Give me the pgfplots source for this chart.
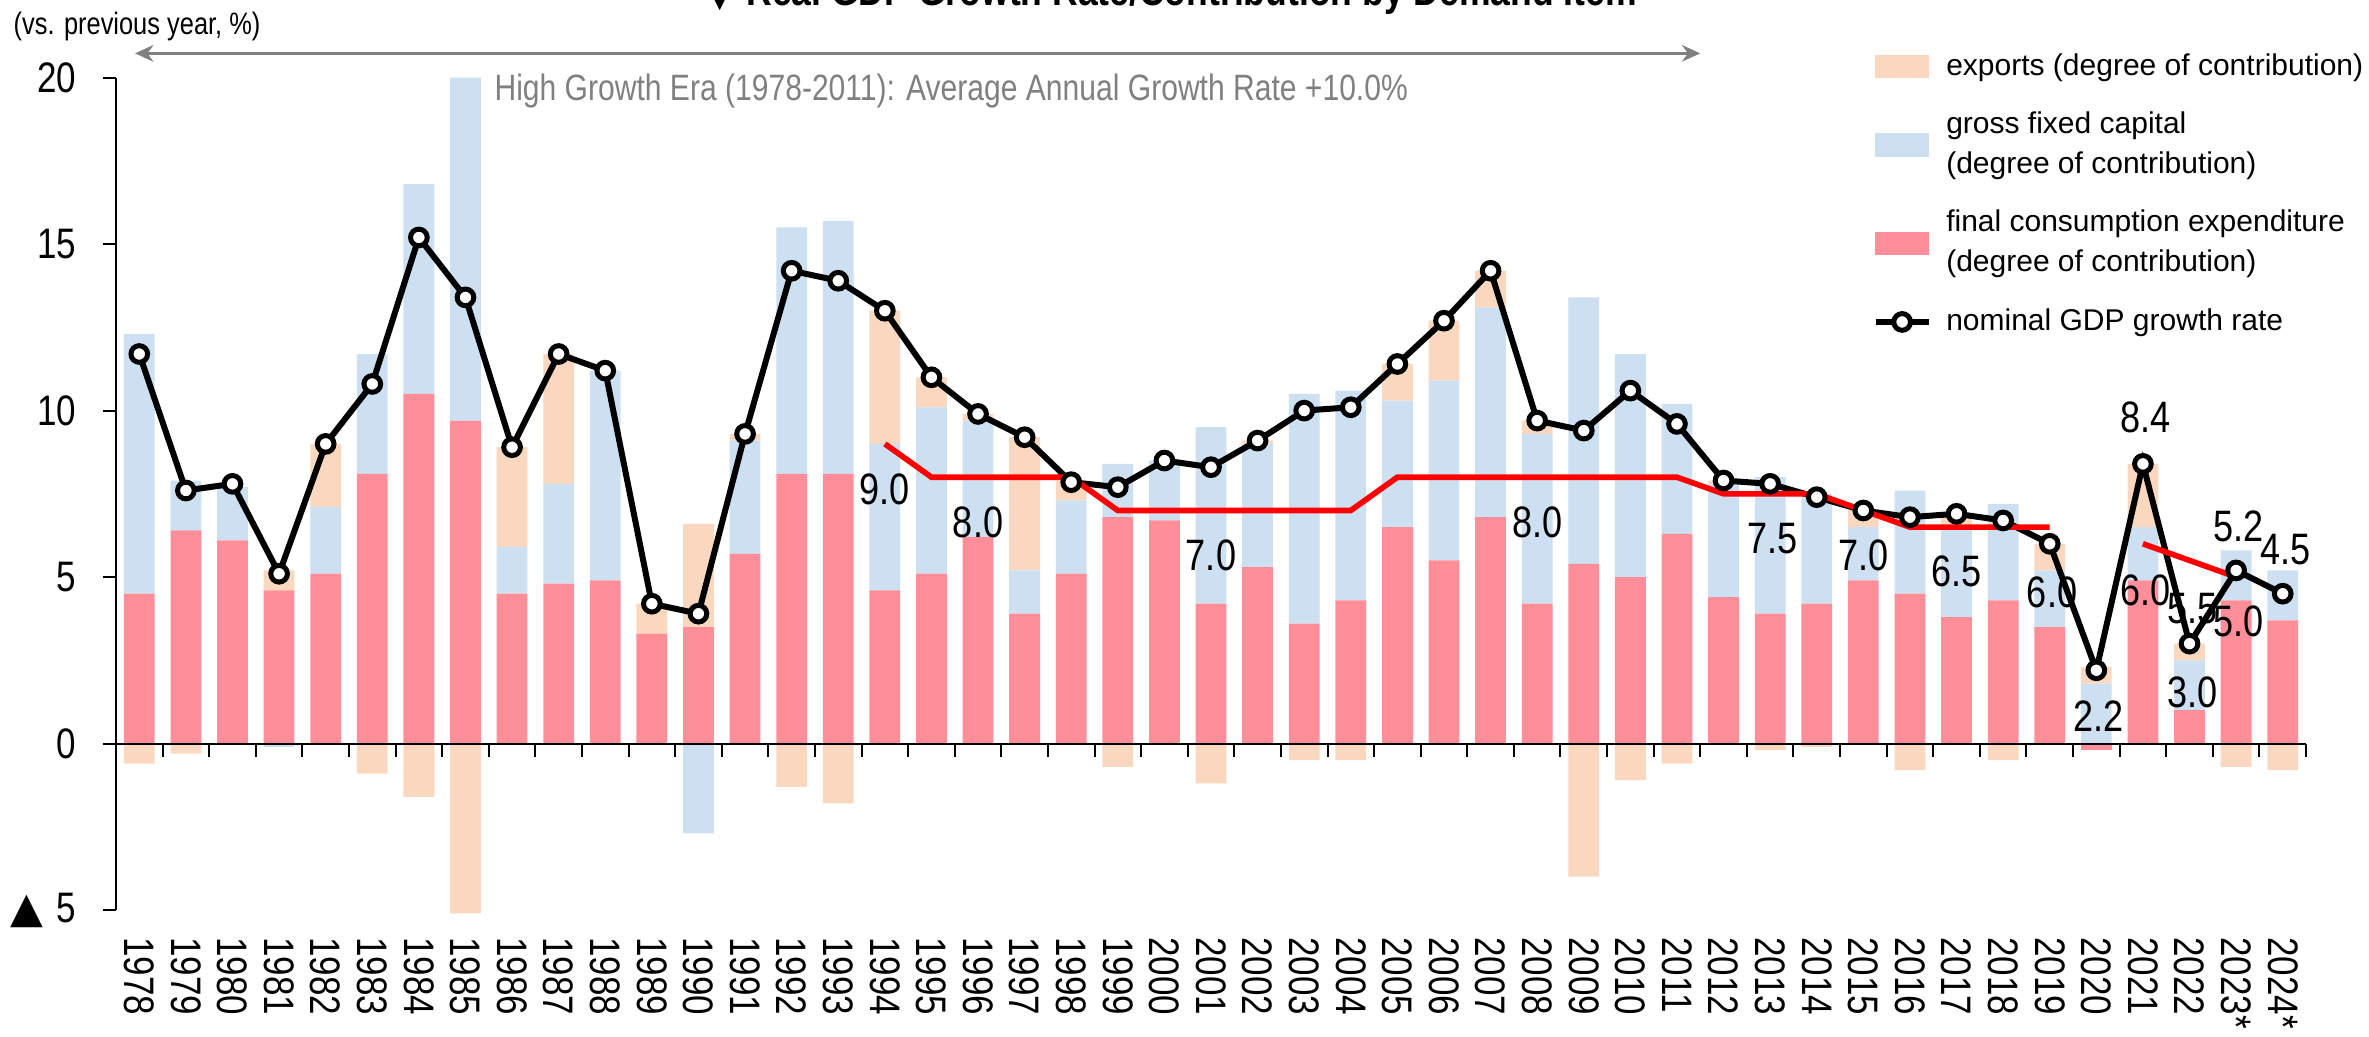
\documentclass[border=0pt]{standalone}
\usepackage{fontspec}
\setmainfont{Liberation Sans}
\newfontfamily\narrow{Liberation Sans}[FakeStretch=0.82]
\newfontfamily\dejavu{DejaVu Sans}
\usepackage{pgfplots}
\usepackage{pgfplotstable}
\pgfplotsset{compat=1.18}
\usetikzlibrary{arrows.meta}

\definecolor{expc}{RGB}{250,216,192}
\definecolor{gfcc}{RGB}{204,224,242}
\definecolor{fcec}{RGB}{255,142,153}
\definecolor{arrgray}{RGB}{128,128,128}

\pgfplotstableread{
i r b e g
0 4.5 7.8 -0.6 11.7
1 6.4 1.5 -0.3 7.6
2 6.1 1.6 0.0 7.8
3 4.6 -0.1 0.6 5.1
4 5.1 2.0 1.9 9.0
5 8.1 3.6 -0.9 10.8
6 10.5 6.3 -1.6 15.2
7 9.7 10.3 -5.1 13.4
8 4.5 1.4 3.0 8.9
9 4.8 3.0 3.9 11.7
10 4.9 6.3 0.0 11.2
11 3.3 0.0 0.9 4.2
12 3.5 -2.7 3.1 3.9
13 5.7 3.4 0.2 9.3
14 8.1 7.4 -1.3 14.2
15 8.1 7.6 -1.8 13.9
16 4.6 4.4 4.0 13.0
17 5.1 5.0 0.9 11.0
18 6.2 3.5 0.2 9.9
19 3.9 1.3 4.0 9.2
20 5.1 2.2 0.6 7.85
21 6.8 1.6 -0.7 7.7
22 6.7 1.8 0.0 8.5
23 4.2 5.3 -1.2 8.3
24 5.3 3.7 0.1 9.1
25 3.6 6.9 -0.5 10.0
26 4.3 6.3 -0.5 10.1
27 6.5 3.8 1.1 11.4
28 5.5 5.4 1.8 12.7
29 6.8 6.3 1.1 14.2
30 4.2 5.1 0.4 9.7
31 5.4 8.0 -4.0 9.4
32 5.0 6.7 -1.1 10.6
33 6.3 3.9 -0.6 9.6
34 4.4 3.4 0.1 7.9
35 3.9 4.1 -0.2 7.8
36 4.2 3.3 -0.1 7.4
37 4.9 1.6 0.5 7.0
38 4.5 3.1 -0.8 6.8
39 3.8 2.7 0.4 6.9
40 4.3 2.9 -0.5 6.7
41 3.5 1.7 0.8 6.0
42 -0.2 1.8 0.5 2.2
43 4.9 1.6 1.9 8.4
44 1.0 1.5 0.5 3.0
45 4.3 1.5 -0.7 5.2
46 3.7 1.5 -0.8 4.5
}\data

\pgfplotstableread{
i t
16 9.0
17 8.0
18 8.0
19 8.0
20 8.0
21 7.0
22 7.0
23 7.0
24 7.0
25 7.0
26 7.0
27 8.0
28 8.0
29 8.0
30 8.0
31 8.0
32 8.0
33 8.0
34 7.5
35 7.5
36 7.5
37 7.0
38 6.5
39 6.5
40 6.5
41 6.5
42 nan
43 6.0
44 5.5
45 5.0
}\target

\pgfplotsset{
  base/.style={
    width=657pt, height=249.7pt, scale only axis,
    xmin=-0.5, xmax=46.5, ymin=-5, ymax=20,
    at={(34.8pt,37.8pt)}, anchor=south west, clip=false,
  },
  gdpimage/.style={legend image code/.code={\draw[##1, mark=none] (0pt,0pt) -- (15.9pt,0pt); \draw[##1] plot coordinates {(7.95pt,0pt)};}},
}
\newcommand{\tickfont}{\narrow\fontsize{12.8}{14}\selectfont}
\newcommand{\lblfont}{\narrow\fontsize{13.2}{14}\selectfont}

\begin{document}
\begin{tikzpicture}
% ---------- bars ----------
\begin{axis}[base,
  ybar stacked, bar width=0.66,
  axis x line=bottom, axis y line=left,
  axis line style={-, line width=0.6pt},
  x axis line style={draw=none},
  xtick={0,...,46},
  xticklabels={1978,1979,1980,1981,1982,1983,1984,1985,1986,1987,1988,1989,1990,1991,1992,1993,1994,1995,1996,1997,1998,1999,2000,2001,2002,2003,2004,2005,2006,2007,2008,2009,2010,2011,2012,2013,2014,2015,2016,2017,2018,2019,2020,2021,2022,2023*,2024*},
  xtick style={draw=none},
  xticklabel style={rotate=-90, anchor=west, inner sep=0pt, font=\tickfont},
  xticklabel shift=4.1pt,
  ytick={-5,0,5,10,15,20},
  yticklabels={{{\dejavu ▲}\hspace{4pt}5},0,5,10,15,20},
  ytick style={line width=0.6pt, black},
  tick align=outside, major tick length=3.9pt,
  yticklabel style={font=\tickfont, inner sep=0pt},
  yticklabel shift=7.8pt,
]
\addplot[fill=fcec, draw=none] table[x=i, y expr={min(\thisrow{r},0)}] {\data};
\addplot[fill=gfcc, draw=none] table[x=i, y expr={min(\thisrow{b},0)}] {\data};
\addplot[fill=expc, draw=none] table[x=i, y expr={min(\thisrow{e},0)}] {\data};
\addplot[fill=fcec, draw=none] table[x=i, y expr={max(\thisrow{r},0)}] {\data};
\addplot[fill=gfcc, draw=none] table[x=i, y expr={max(\thisrow{b},0)}] {\data};
\addplot[fill=expc, draw=none] table[x=i, y expr={max(\thisrow{e},0)}] {\data};
\end{axis}
% ---------- lines ----------
\begin{axis}[base,
  axis x line=middle, axis y line=none,
  axis line style={-, line width=0.6pt},
  xtick={0.5,1.5,...,46.5}, xticklabels={},
  ytick=\empty,
  xtick style={line width=0.6pt, black},
  tick align=outside, major tick length=3.9pt,
  legend style={at={(0.8018,1.03)}, anchor=north west, draw=none, fill=none,
    inner sep=0pt, row sep=9.5pt,
    font=\fontsize{9.0}{12}\selectfont,
    nodes={inner sep=0pt},
    cells={anchor=west, align=left},
    /tikz/every odd column/.append style={column sep=4.4pt}},
]
\addlegendimage{legend image code/.code={\fill[expc] (0pt,-3.3pt) rectangle (15.9pt,3.3pt);}}
\addlegendentry{exports (degree of contribution)}
\addlegendimage{legend image code/.code={\fill[gfcc] (0pt,-3.3pt) rectangle (15.9pt,3.3pt);}}
\addlegendentry{gross fixed capital\\(degree of contribution)}
\addlegendimage{legend image code/.code={\fill[fcec] (0pt,-3.3pt) rectangle (15.9pt,3.3pt);}}
\addlegendentry{final consumption expenditure\\(degree of contribution)}

\node[font=\lblfont, inner sep=0pt] at (axis cs:16.0,7.64) {9.0};
\node[font=\lblfont, inner sep=0pt] at (axis cs:18.0,6.65) {8.0};
\node[font=\lblfont, inner sep=0pt] at (axis cs:23.0,5.66) {7.0};
\node[font=\lblfont, inner sep=0pt] at (axis cs:30.0,6.65) {8.0};
\node[font=\lblfont, inner sep=0pt] at (axis cs:35.05,6.15) {7.5};
\node[font=\lblfont, inner sep=0pt] at (axis cs:37.0,5.66) {7.0};
\node[font=\lblfont, inner sep=0pt] at (axis cs:39.0,5.16) {6.5};
\node[font=\lblfont, inner sep=0pt] at (axis cs:41.05,4.53) {6.0};
\node[font=\lblfont, inner sep=0pt] at (axis cs:42.05,0.83) {2.2};
\node[font=\lblfont, inner sep=0pt] at (axis cs:43.05,9.79) {8.4};
\node[font=\lblfont, inner sep=0pt] at (axis cs:43.05,4.6) {6.0};
\node[font=\lblfont, inner sep=0pt] at (axis cs:44.06,4.04) {5.5};
\node[font=\lblfont, inner sep=0pt] at (axis cs:44.06,1.55) {3.0};
\node[font=\lblfont, inner sep=0pt] at (axis cs:45.05,6.53) {5.2};
\node[font=\lblfont, inner sep=0pt] at (axis cs:45.05,3.66) {5.0};
\node[font=\lblfont, inner sep=0pt] at (axis cs:46.06,5.84) {4.5};

\node[anchor=west, text=arrgray, inner sep=0pt, font=\narrow\fontsize{11}{13}\selectfont] at (axis cs:7.61,19.6) {High Growth Era (1978-2011): Average Annual Growth Rate +10.0\%};
\draw[arrgray, line width=0.7pt, {Stealth[length=5.5pt,width=5pt]}-{Stealth[length=5.5pt,width=5pt]}] (axis cs:-0.09,20.73) -- (axis cs:33.5,20.73);

\addplot[black, line width=1.8pt, mark=*, mark size=2.5pt,
  mark options={fill=white, draw=black, line width=1.5pt}, gdpimage]
  table[x=i, y=g] {\data};
\addlegendentry{nominal GDP growth rate}

\addplot[red, line width=1.7pt, no markers, forget plot, unbounded coords=jump] table[x=i, y=t] {\target};
\end{axis}

\node[anchor=base west, inner sep=0pt, font=\narrow\fontsize{9.3}{11}\selectfont] at (3.9pt,300.3pt) {(vs. previous year, \%)};
\node[anchor=base, inner sep=0pt, font=\narrow\bfseries\fontsize{13}{15}\selectfont] at (351pt,309pt) {{\dejavu ▼} Real GDP Growth Rate/Contribution by Demand Item};

\pgfresetboundingbox
\path[use as bounding box] (0,0) rectangle (710.7pt,310.8pt);
\end{tikzpicture}
\end{document}
